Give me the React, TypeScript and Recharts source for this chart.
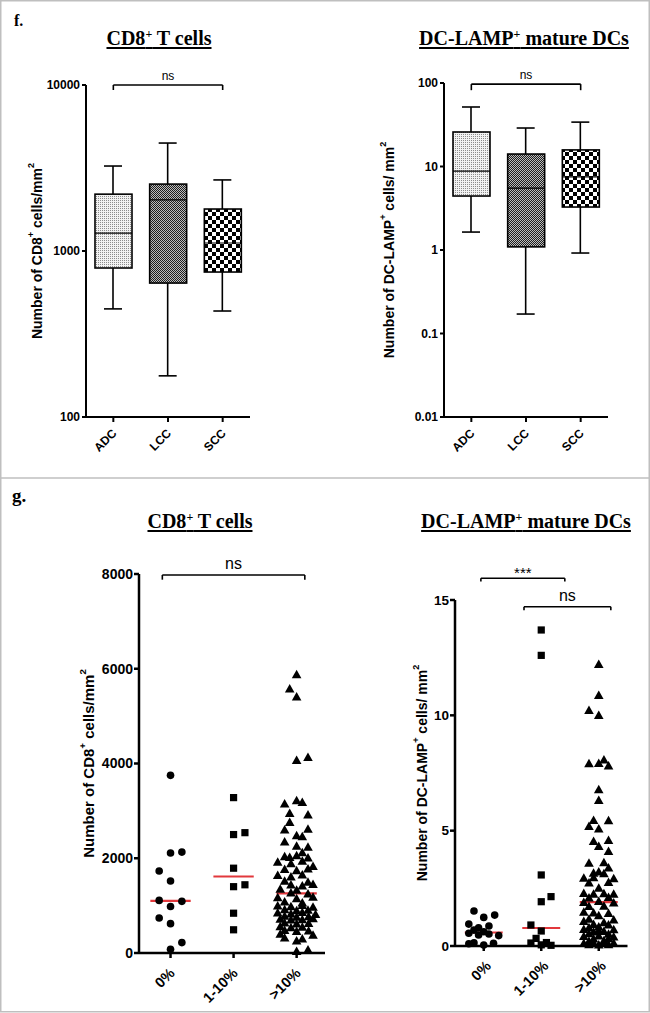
import React from 'react'
import { ComposedChart, ScatterChart, Bar, Scatter, XAxis, YAxis, ReferenceLine } from 'recharts'

const SANS = '"Liberation Sans", Arial, Helvetica, sans-serif'
const SERIF = '"Liberation Serif", "Times New Roman", Times, serif'

// panel f: box plots, log scale
const histologies = ['ADC', 'LCC', 'SCC']

const cd8Min = [448, 177, 435]
const cd8Q1 = [790, 641, 747]
const cd8Median = [1280, 2030, 1117]
const cd8Q3 = [2200, 2530, 1790]
const cd8Max = [3250, 4470, 2680]

const dcMin = [1.64, 0.171, 0.92]
const dcQ1 = [4.43, 1.09, 3.27]
const dcMedian = [8.8, 5.5, 7.5]
const dcQ3 = [25.9, 14.1, 15.8]
const dcMax = [51.6, 28.9, 34]

const cd8LogTicks = [100, 1000, 10000]
const dcLogTicks = [0.01, 0.1, 1, 10, 100]

// panel g: column scatter
const groups = ['0%', '1-10%', '>10%']
const cd8Ticks = [0, 2000, 4000, 6000, 8000]
const dcTicks = [0, 5, 10, 15]

const cd8Zero = [3750, 2110, 2130, 1730, 1520, 1110, 1090, 980, 740, 620, 220, 80]
const cd8ZeroJitter = [0, 0, 0.18, -0.18, 0, -0.18, 0.18, 0, -0.18, 0, 0.18, 0]
const cd8Low = [3280, 2500, 2540, 1790, 1400, 1440, 840, 490]
const cd8LowJitter = [0, 0, 0.18, 0, 0, 0.18, 0, 0]
const cd8High = [
  5870, 5570, 5400, 4120, 4060, 3210, 3140, 3170, 2940, 2910, 2750, 2590, 2610, 2470, 2450, 2340,
  2250, 2230, 2110, 2030, 2010, 2050, 2000, 1910, 1880, 1930, 1820, 1760, 1730, 1770, 1630, 1600,
  1640, 1510, 1490, 1430, 1410, 1440, 1340, 1320, 1260, 1240, 1160, 1140, 1170, 1070, 1050, 990,
  970, 1000, 960, 910, 890, 900, 840, 820, 850, 810, 770, 750, 760, 710, 690, 700, 720, 630, 610,
  620, 550, 530, 540, 470, 450, 460, 390, 370, 310, 290, 250, 60, 30,
]
const cd8HighJitter = [
  0, -0.11, 0, 0.18, 0, 0, -0.19, 0.09, -0.11, 0.18, -0.11, -0.19, 0.18, 0, 0.09, -0.19,
  0, 0.18, 0.09, -0.19, -0.11, 0, 0.18, -0.3, -0.09, 0.09, 0.26, -0.19, 0, 0.18, -0.3, -0.09,
  0.09, -0.19, 0.18, -0.09, 0.09, 0.26, -0.26, 0, -0.09, 0.18, -0.3, 0, 0.26, -0.19, 0.09, -0.3,
  -0.09, 0.09, 0.26, -0.19, 0, 0.18, -0.3, -0.09, 0.09, 0.3, -0.19, 0, 0.19, -0.26, -0.09, 0.09, 0.26, -0.19, 0,
  0.19, -0.26, -0.09, 0.09, -0.19, 0, 0.19, -0.26, 0.26, -0.19, 0.09, 0, 0.18, 0,
]

const dcZero = [1.52, 1.24, 1.34, 0.95, 0.79, 0.87, 0.69, 0.62, 0.48, 0.52, 0.45, 0.55, 0.14, 0.04, 0.12, 0.1]
const dcZeroJitter = [-0.17, 0, 0.19, -0.26, -0.09, 0.09, -0.17, 0, -0.09, 0.09, 0.26, -0.26, -0.17, 0, 0.17, -0.26]
const dcLow = [13.7, 12.6, 3.08, 2.14, 1.92, 0.91, 0.65, 0.33, 0.15, 0.13, 0.05, 0.03]
const dcLowJitter = [0, 0, 0, 0.17, 0, -0.18, 0, -0.09, 0.09, -0.18, 0, 0.17]
const dcHigh = [
  12.2, 10.85, 10.2, 9.98, 7.89, 7.9, 8.06, 7.8, 6.76, 6.3, 5.43, 5.42, 5.17, 5.06, 4.52, 4.57,
  4.3, 4.09, 3.58, 3.6, 3.37, 3.15, 3.2, 3.12, 2.93, 2.95, 2.91, 2.72, 2.74, 2.5, 2.27, 2.24,
  2.26, 2.23, 2.07, 2.09, 1.88, 1.92, 1.86, 1.7, 1.72, 1.45, 1.42, 1.4, 1.3, 1.15, 1.12, 1.05,
  1.0, 0.92, 0.9, 0.82, 0.78, 0.71, 0.7, 0.65, 0.6, 0.62, 0.52, 0.5, 0.4, 0.42, 0.38, 0.3, 0.31,
  0.22, 0.2, 0.1, 0.12, 0.1, 0.11, 0.05, 0.04, 0.05,
]
const dcHighJitter = [
  0, 0, -0.17, 0, -0.17, 0, 0.09, 0.17, 0, 0, -0.09, 0.17, -0.17, 0, -0.09, 0.17,
  0, 0.17, -0.17, 0.09, 0.17, -0.09, 0, 0.09, -0.26, -0.09, 0.26, -0.17, 0.17, 0, -0.26, -0.09,
  0.09, 0.26, -0.17, 0.17, -0.26, 0, 0.26, -0.17, 0.09, -0.26, -0.09, 0.17, 0, -0.17, 0.26, -0.26,
  0.09, -0.09, 0.17, 0, -0.17, -0.26, 0.26, 0, -0.09, 0.09, -0.17, 0.17, -0.26, 0, 0.26, -0.09, 0.17,
  0.09, -0.17, -0.26, -0.09, 0.09, 0.26, -0.17, 0, 0.17,
]

// significance brackets, in data units
const cd8BoxBracket = { x1: 'ADC', x2: 'SCC', y: 10000, drop: 9330, text: 'ns', offset: 5, fs: 12 }
const dcBoxBracket = { x1: 'ADC', x2: 'SCC', y: 97, drop: 82, text: 'ns', offset: 5, fs: 12 }
const cd8Brackets = [{ x1: 0.87, x2: 3.13, y: 7980, drop: 7880, text: 'ns', offset: 6, fs: 16 }]
const dcBrackets = [
  { x1: 0.95, x2: 2.41, y: 15.94, drop: 15.8, text: '***', offset: 0, fs: 15 },
  { x1: 1.7, x2: 3.21, y: 14.71, drop: 14.56, text: 'ns', offset: 6, fs: 16 },
]

const boxFill: Record<string, string> = {
  ADC: 'url(#patLight)',
  LCC: 'url(#patDark)',
  SCC: 'url(#patChecker)',
}

const axisLine = { stroke: '#000', strokeWidth: 2 }
const RED = '#e2383c'

const median = (v: number[]) => {
  const s = [...v].sort((a, b) => a - b)
  const m = Math.floor(s.length / 2)
  return s.length % 2 ? s[m] : (s[m - 1] + s[m]) / 2
}

const toPoints = (group: number, values: number[], jitter: number[]) =>
  values.map((v, i) => ({ x: group + (jitter[i] ?? 0), y: v }))

const buildBox = (mins: number[], q1: number[], med: number[], q3: number[], maxs: number[]) =>
  histologies.map((name, i) => ({ name, min: mins[i], q1: q1[i], med: med[i], q3: q3[i], max: maxs[i] }))

// rotated y-axis title with superscripts; parts alternate plain / superscript
const axisTitle = (parts: string[], offset: number, size: number) => (props: any) => {
  const vb = props?.viewBox ?? {}
  const x = (vb.x ?? 0) + offset
  const y = (vb.y ?? 0) + (vb.height ?? 0) / 2
  const up = size * 0.42
  return (
    <text
      x={x}
      y={y}
      transform={`rotate(-90 ${x} ${y})`}
      textAnchor="middle"
      dominantBaseline="central"
      fontFamily={SANS}
      fontWeight="bold"
      fontSize={size}
      fill="#000"
    >
      {parts.map((t, i) => {
        const sup = i % 2 === 1
        const dy = sup ? -up : i > 0 ? up : 0
        return (
          <tspan key={i} dy={dy} fontSize={sup ? size * 0.65 : size}>
            {t}
          </tspan>
        )
      })}
    </text>
  )
}

const RotTick = (props: any) => {
  const { x, y, payload, labels, fs, ox, oy } = props
  const text = labels ? labels[Math.round(payload.value) - 1] : payload.value
  const px = x + ox
  const py = y + oy
  return (
    <text
      x={px}
      y={py}
      transform={`rotate(-45 ${px} ${py})`}
      textAnchor="end"
      fontFamily={SANS}
      fontWeight="bold"
      fontSize={fs}
      fill="#000"
    >
      {text}
    </text>
  )
}

const WhiskerShape = (p: any) => {
  const top = Math.min(p.y, p.y + p.height)
  const bot = Math.max(p.y, p.y + p.height)
  const cx = p.x + p.width / 2
  return (
    <g stroke="#000" strokeWidth={1.6}>
      <line x1={cx} x2={cx} y1={top} y2={bot} />
      <line x1={p.x} x2={p.x + p.width} y1={top} y2={top} />
      <line x1={p.x} x2={p.x + p.width} y1={bot} y2={bot} />
    </g>
  )
}

const BoxShape = (p: any) => (
  <rect
    x={p.x}
    y={Math.min(p.y, p.y + p.height)}
    width={p.width}
    height={Math.abs(p.height)}
    fill={boxFill[p.payload?.name] ?? '#ccc'}
    stroke="#000"
    strokeWidth={1.6}
  />
)

const MedianShape = (p: any) => {
  const top = Math.min(p.y, p.y + p.height)
  return <line x1={p.x} x2={p.x + p.width} y1={top} y2={top} stroke="#000" strokeWidth={1.2} />
}

const Dot = (p: any) => <circle cx={p.cx} cy={p.cy} r={3.8} fill="#000" />
const Sq = (p: any) => <rect x={p.cx - 3.6} y={p.cy - 3.6} width={7.2} height={7.2} fill="#000" />
const Tri = (p: any) => (
  <polygon points={`${p.cx},${p.cy - 5.2} ${p.cx - 4.8},${p.cy + 3.3} ${p.cx + 4.8},${p.cy + 3.3}`} fill="#000" />
)

const renderBracket = (b: any, key: string, xAxisId?: string) => {
  const common: any = { stroke: '#000', strokeWidth: 1.6, ifOverflow: 'visible' }
  if (xAxisId) common.xAxisId = xAxisId
  return [
    <ReferenceLine
      key={key + 'h'}
      {...common}
      segment={[{ x: b.x1, y: b.y }, { x: b.x2, y: b.y }]}
      label={{ value: b.text, position: 'top', offset: b.offset, fill: '#000', fontSize: b.fs, fontFamily: SANS }}
    />,
    <ReferenceLine key={key + 'l'} {...common} segment={[{ x: b.x1, y: b.y }, { x: b.x1, y: b.drop }]} />,
    <ReferenceLine key={key + 'r'} {...common} segment={[{ x: b.x2, y: b.y }, { x: b.x2, y: b.drop }]} />,
  ]
}

function BoxPanel(props: any) {
  const { data, domain, ticks, margin, yAxisWidth, title, titleOffset, bracket } = props
  return (
    <ComposedChart width={325} height={478} data={data} margin={margin}>
      <XAxis
        xAxisId="box"
        dataKey="name"
        type="category"
        height={61}
        interval={0}
        axisLine={axisLine}
        tickLine={axisLine}
        tickSize={5}
        tick={<RotTick fs={12} ox={4} oy={10} />}
      />
      <XAxis xAxisId="whisker" dataKey="name" type="category" hide />
      <XAxis xAxisId="median" dataKey="name" type="category" hide />
      <YAxis
        type="number"
        scale="log"
        domain={domain}
        ticks={ticks}
        allowDataOverflow
        width={yAxisWidth}
        axisLine={axisLine}
        tickLine={axisLine}
        tickSize={4}
        tickMargin={2}
        tickFormatter={(v: number) => String(v)}
        tick={{ fill: '#000', fontSize: 12, fontWeight: 700, fontFamily: SANS }}
        label={axisTitle(title, titleOffset, 14)}
      />
      <Bar xAxisId="whisker" dataKey={(d: any) => [d.min, d.max]} barSize={18} shape={WhiskerShape} isAnimationActive={false} />
      <Bar xAxisId="box" dataKey={(d: any) => [d.q1, d.q3]} barSize={37} shape={BoxShape} isAnimationActive={false} />
      <Bar xAxisId="median" dataKey={(d: any) => [d.q1, d.med]} barSize={37} shape={MedianShape} isAnimationActive={false} />
      {renderBracket(bracket, 'b', 'box')}
    </ComposedChart>
  )
}

function ScatterPanel(props: any) {
  const { series, xDomain, yDomain, yTicks, margin, yAxisWidth, xAxisHeight, title, titleOffset, titleSize, brackets, halfWidth, tickOx, yFs } = props
  return (
    <ScatterChart width={325} height={535} margin={margin}>
      <XAxis
        type="number"
        dataKey="x"
        domain={xDomain}
        ticks={[1, 2, 3]}
        height={xAxisHeight}
        axisLine={{ stroke: '#000', strokeWidth: 2.5 }}
        tickLine={{ stroke: '#000', strokeWidth: 2.5 }}
        tickSize={5}
        tick={<RotTick labels={groups} fs={14.5} ox={tickOx} oy={14} />}
      />
      <YAxis
        type="number"
        dataKey="y"
        domain={yDomain}
        ticks={yTicks}
        width={yAxisWidth}
        axisLine={{ stroke: '#000', strokeWidth: 2.5 }}
        tickLine={{ stroke: '#000', strokeWidth: 2.5 }}
        tickSize={5}
        tickMargin={1}
        tick={{ fill: '#000', fontSize: yFs, fontWeight: 700, fontFamily: SANS }}
        label={axisTitle(title, titleOffset, titleSize)}
      />
      <Scatter data={series[0]} shape={Dot} isAnimationActive={false} />
      <Scatter data={series[1]} shape={Sq} isAnimationActive={false} />
      <Scatter data={series[2]} shape={Tri} isAnimationActive={false} />
      {series.map((pts: any[], i: number) => {
        const m = median(pts.map((p) => p.y))
        return (
          <ReferenceLine
            key={'m' + i}
            segment={[{ x: i + 1 - halfWidth, y: m }, { x: i + 1 + halfWidth, y: m }]}
            stroke={RED}
            strokeWidth={2.2}
            ifOverflow="visible"
          />
        )
      })}
      {brackets.map((b: any, i: number) => renderBracket(b, 'br' + i))}
    </ScatterChart>
  )
}

const Title = ({ cx, baseline, name, rest }: any) => (
  <div
    style={{
      position: 'absolute',
      left: cx - 160,
      top: baseline - 17,
      width: 320,
      textAlign: 'center',
      fontFamily: SERIF,
      fontWeight: 'bold',
      fontSize: 20,
      lineHeight: '20px',
      color: '#000',
      textDecoration: 'underline',
      textDecorationThickness: '2px',
      textUnderlineOffset: '2px',
      whiteSpace: 'nowrap',
    }}
  >
    {name}
    <span style={{ fontSize: 12, lineHeight: 0, verticalAlign: '7px' }}>+</span>
    {rest}
  </div>
)

export default function App() {
  const cd8Box = buildBox(cd8Min, cd8Q1, cd8Median, cd8Q3, cd8Max)
  const dcBox = buildBox(dcMin, dcQ1, dcMedian, dcQ3, dcMax)
  const cd8Series = [
    toPoints(1, cd8Zero, cd8ZeroJitter),
    toPoints(2, cd8Low, cd8LowJitter),
    toPoints(3, cd8High, cd8HighJitter),
  ]
  const dcSeries = [
    toPoints(1, dcZero, dcZeroJitter),
    toPoints(2, dcLow, dcLowJitter),
    toPoints(3, dcHigh, dcHighJitter),
  ]

  return (
    <div style={{ position: 'absolute', left: 0, top: 0, width: 650, height: 1013, background: '#fff', overflow: 'hidden' }}>
      <svg width={0} height={0} style={{ position: 'absolute' }}>
        <defs>
          <pattern id="patLight" width={2} height={2} patternUnits="userSpaceOnUse">
            <rect width={2} height={2} fill="#f2f2f2" />
            <rect width={1} height={1} fill="#8c8c8c" />
          </pattern>
          <pattern id="patDark" width={2} height={2} patternUnits="userSpaceOnUse">
            <rect width={2} height={2} fill="#bcbcbc" />
            <rect width={1} height={1} fill="#1e1e1e" />
            <rect x={1} y={1} width={1} height={1} fill="#1e1e1e" />
          </pattern>
          <pattern id="patChecker" width={8} height={8} patternUnits="userSpaceOnUse">
            <rect width={8} height={8} fill="#fff" />
            <rect width={4} height={4} fill="#000" />
            <rect x={4} y={4} width={4} height={4} fill="#000" />
          </pattern>
        </defs>
      </svg>

      <div style={{ position: 'absolute', left: 0, top: 0 }}>
        <BoxPanel
          data={cd8Box}
          domain={[100, 10000]}
          ticks={cd8LogTicks}
          margin={{ top: 85, right: 75, bottom: 0, left: 0 }}
          yAxisWidth={86}
          title={['Number of CD8', '+', ' cells/mm', '2']}
          titleOffset={37}
          bracket={cd8BoxBracket}
        />
      </div>
      <div style={{ position: 'absolute', left: 325, top: 0 }}>
        <BoxPanel
          data={dcBox}
          domain={[0.01, 100]}
          ticks={dcLogTicks}
          margin={{ top: 83, right: 42, bottom: 0, left: 0 }}
          yAxisWidth={119}
          title={['Number of DC-LAMP', '+', ' cells/ mm', '2']}
          titleOffset={64}
          bracket={dcBoxBracket}
        />
      </div>
      <div style={{ position: 'absolute', left: 0, top: 478 }}>
        <ScatterPanel
          series={cd8Series}
          xDomain={[0.5, 3.45]}
          yDomain={[0, 8000]}
          yTicks={cd8Ticks}
          margin={{ top: 96, right: 0, bottom: 0, left: 0 }}
          yAxisWidth={139}
          xAxisHeight={60}
          title={['Number of CD8', '+', ' cells/mm', '2']}
          titleOffset={88}
          titleSize={15}
          brackets={cd8Brackets}
          halfWidth={0.32}
          tickOx={5}
          yFs={14}
        />
      </div>
      <div style={{ position: 'absolute', left: 325, top: 478 }}>
        <ScatterPanel
          series={dcSeries}
          xDomain={[0.5, 3.5]}
          yDomain={[0, 15]}
          yTicks={dcTicks}
          margin={{ top: 122, right: 22.5, bottom: 0, left: 0 }}
          yAxisWidth={130}
          xAxisHeight={67}
          title={['Number of DC-LAMP', '+', ' cells/ mm', '2']}
          titleOffset={97}
          titleSize={14}
          brackets={dcBrackets}
          halfWidth={0.33}
          tickOx={8}
          yFs={13.5}
        />
      </div>

      <Title cx={159} baseline={45} name="CD8" rest=" T cells" />
      <Title cx={524} baseline={45} name="DC-LAMP" rest=" mature DCs" />
      <Title cx={200} baseline={528} name="CD8" rest=" T cells" />
      <Title cx={526} baseline={528} name="DC-LAMP" rest=" mature DCs" />

      <svg width={650} height={1013} style={{ position: 'absolute', left: 0, top: 0, pointerEvents: 'none' }}>
        <rect x={0.75} y={0.75} width={648.5} height={1011} fill="none" stroke="#bfbfbf" strokeWidth={1.5} />
        <line x1={0} x2={650} y1={478} y2={478} stroke="#bfbfbf" strokeWidth={1.5} />
        <text x={14} y={26} fontFamily={SERIF} fontWeight="bold" fontSize={16} fill="#000">f.</text>
        <text x={12} y={502} fontFamily={SERIF} fontWeight="bold" fontSize={19} fill="#000">g.</text>
      </svg>
    </div>
  )
}
